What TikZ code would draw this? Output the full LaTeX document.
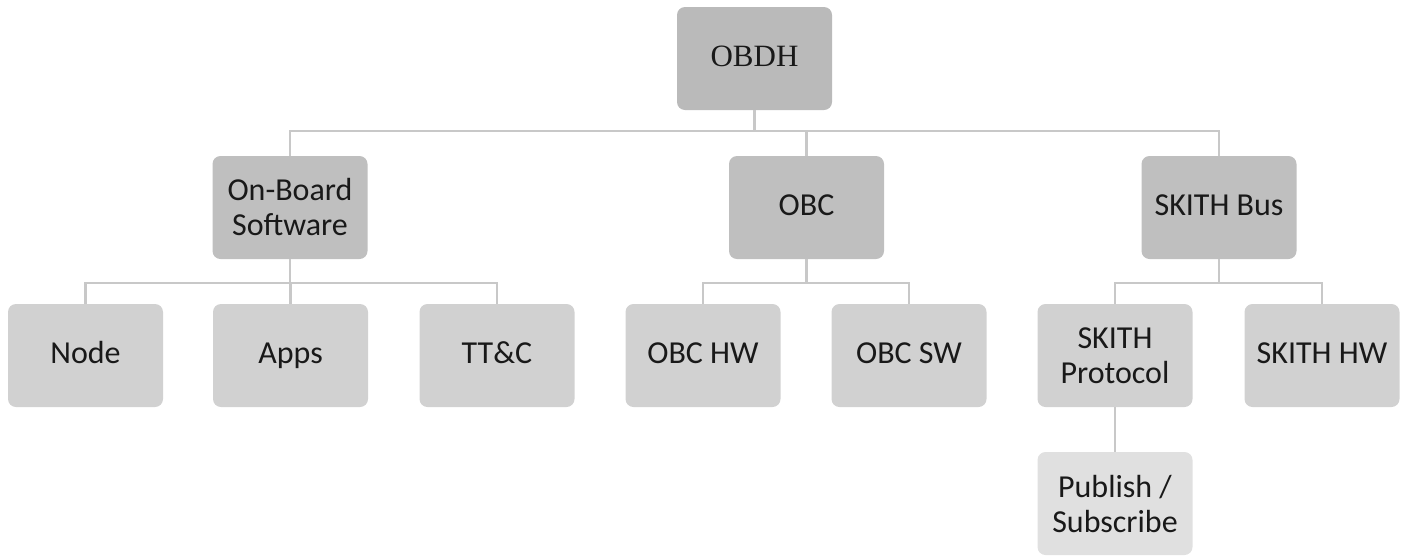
\documentclass[tikz,border=0pt]{standalone}
\usepackage{fontspec}
\setmainfont{Carlito}
\newfontfamily\serifobdh{Liberation Serif}
\definecolor{lvA}{HTML}{BABABA}
\definecolor{lvB}{HTML}{BFBFBF}
\definecolor{lvC}{HTML}{D1D1D1}
\definecolor{lvD}{HTML}{E0E0E0}
\definecolor{lineC}{HTML}{C8C8C8}
\begin{document}
\begin{tikzpicture}[x=1pt,y=-1pt,
  box/.style={rounded corners=8pt, minimum width=155pt, minimum height=103pt, inner sep=0pt, align=center, font=\fontsize{32}{35}\selectfont, text=black!90},
  oneline/.style={text height=23pt, text depth=7pt},
  conn/.style={draw=lineC, line width=2.5pt}]
\useasboundingbox (0,0) rectangle (1404,555);
\node[box, oneline, fill=lvA, font=\serifobdh\fontsize{31}{34}\selectfont] (obdh) at (754.5,58.5) {OBDH};
\node[box, fill=lvB] (obs) at (290,207.5) {On-Board\\Software};
\node[box, oneline, fill=lvB] (obc) at (806.5,207.5) {OBC};
\node[box, oneline, fill=lvB] (skb) at (1219,207.5) {SKITH Bus};
\node[box, oneline, fill=lvC] (node) at (85.5,355.5) {Node};
\node[box, oneline, fill=lvC] (apps) at (290.5,355.5) {Apps};
\node[box, oneline, fill=lvC] (ttc) at (497,355.5) {TT\&C};
\node[box, oneline, fill=lvC] (obchw) at (703,355.5) {OBC HW};
\node[box, oneline, fill=lvC] (obcsw) at (909,355.5) {OBC SW};
\node[box, fill=lvC] (skp) at (1115,355.5) {SKITH\\Protocol};
\node[box, oneline, fill=lvC] (skhw) at (1322,355.5) {SKITH HW};
\node[box, fill=lvD] (pub) at (1115,503.5) {Publish /\\Subscribe};
\draw[conn] (obdh.south) -- ++(0,21) -| (obs.north);
\draw[conn] (obdh.south) -- ++(0,21) -| (obc.north);
\draw[conn] (obdh.south) -- ++(0,21) -| (skb.north);
\draw[conn] (obs.south) -- ++(0,24) -| (node.north);
\draw[conn] (obs.south) -- ++(0,24) -| (apps.north);
\draw[conn] (obs.south) -- ++(0,24) -| (ttc.north);
\draw[conn] (obc.south) -- ++(0,24) -| (obchw.north);
\draw[conn] (obc.south) -- ++(0,24) -| (obcsw.north);
\draw[conn] (skb.south) -- ++(0,24) -| (skp.north);
\draw[conn] (skb.south) -- ++(0,24) -| (skhw.north);
\draw[conn] (skp.south) -- (pub.north);
\end{tikzpicture}
\end{document}
